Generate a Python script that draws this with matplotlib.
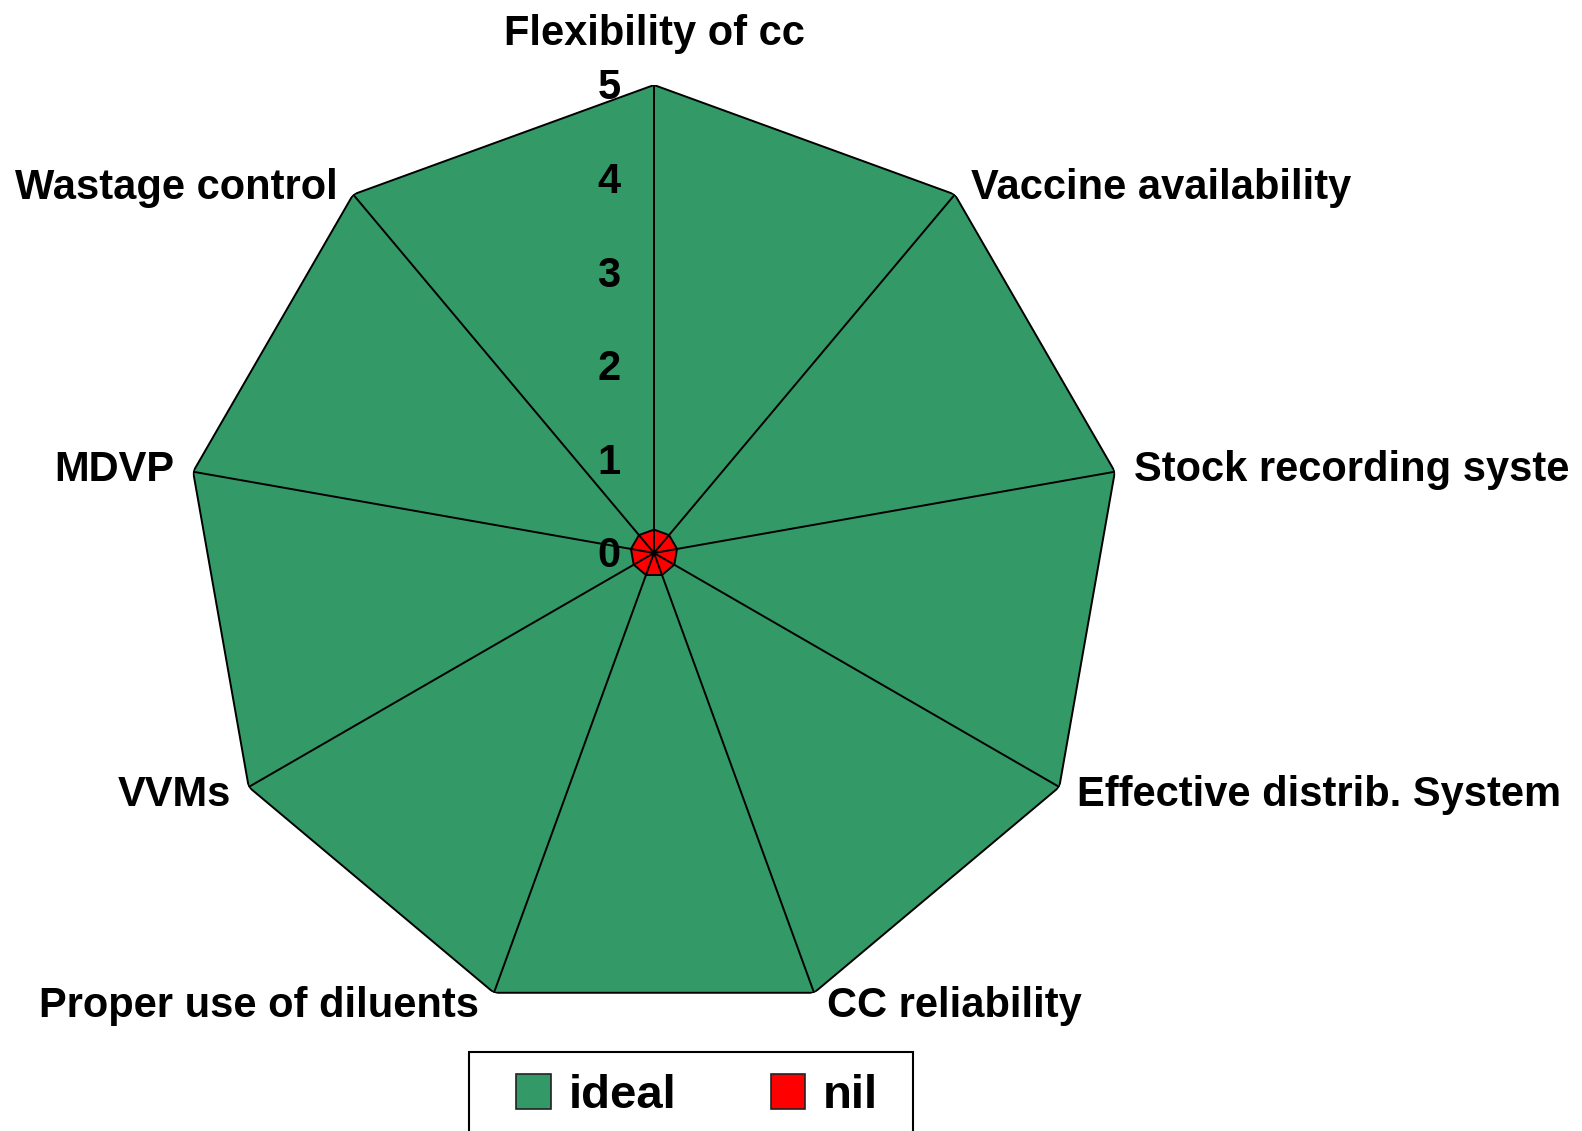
import matplotlib
matplotlib.use('Agg')
import matplotlib.pyplot as plt
from matplotlib.patches import Patch, Rectangle
import numpy as np

categories = ["Flexibility of cc", "Vaccine availability", "Stock recording syste",
              "Effective distrib. System", "CC reliability", "Proper use of diluents",
              "VVMs", "MDVP", "Wastage control"]
ideal = [5, 5, 5, 5, 5, 5, 5, 5, 5]
nil = [0.25, 0.25, 0.25, 0.25, 0.25, 0.25, 0.25, 0.25, 0.25]
r_ticks = [0, 1, 2, 3, 4, 5]
series_names = ["ideal", "nil"]

GREEN = "#339966"
RED = "#FF0000"

plt.rcParams['font.family'] = ['Liberation Sans', 'DejaVu Sans']

fig = plt.figure(figsize=(15.82, 11.31), dpi=100)
ax = fig.add_axes([186/1582, 110/1131, 936/1582, 936/1131], polar=True)
ax.set_theta_zero_location('N')
ax.set_theta_direction(-1)
ax.set_ylim(0, 5)
ax.set_axis_off()

n = len(categories)
angles = np.arange(n) * 2 * np.pi / n
ang_c = np.append(angles, angles[0])

ax.fill(ang_c, ideal + [ideal[0]], facecolor=GREEN, edgecolor='black', linewidth=1.4, zorder=2)
ax.fill(ang_c, nil + [nil[0]], facecolor=RED, edgecolor='black', linewidth=1.4, zorder=3)
for a, v in zip(angles, ideal):
    ax.plot([a, a], [0, v], color='black', linewidth=1.4, zorder=4)

for r in r_ticks:
    ax.annotate(str(r), xy=(0, r), xytext=(-24, -2.5), textcoords='offset points',
                ha='right', va='center', fontsize=30, fontweight='bold', zorder=5,
                annotation_clip=False)

offsets = [((0, 29), 'center'), ((12, -3), 'left'), ((14, -6.5), 'left'),
           ((13, -13.5), 'left'), ((9.5, -17.5), 'left'), ((-11, -17.5), 'right'),
           ((-13, -13.5), 'right'), ((-13.5, -7), 'right'), ((-11, -3), 'right')]
for a, v, lab, (off, ha) in zip(angles, ideal, categories, offsets):
    ax.annotate(lab, xy=(a, v), xytext=off, textcoords='offset points',
                ha=ha, va='baseline', fontsize=30, fontweight='bold',
                annotation_clip=False)

# legend frame (extends past the bottom edge as in the reference)
fig.patches.append(Rectangle((469/1582, -10/1131), 444/1582, (1131-1052+10)/1131,
                             transform=fig.transFigure, facecolor='white',
                             edgecolor='black', linewidth=1.5, zorder=0))

handles = [Patch(facecolor=GREEN, edgecolor='#222222', linewidth=1.2),
           Patch(facecolor=RED, edgecolor='#222222', linewidth=1.2)]
leg = fig.legend(handles, series_names, loc='center',
                 bbox_to_anchor=(697/1582, (1131-1096)/1131), ncol=2,
                 frameon=False, prop={'weight': 'bold', 'size': 34},
                 handlelength=0.74, handleheight=0.74, borderpad=0, borderaxespad=0,
                 columnspacing=2.0, handletextpad=0.36)

fig.savefig('out.png', dpi=100)
